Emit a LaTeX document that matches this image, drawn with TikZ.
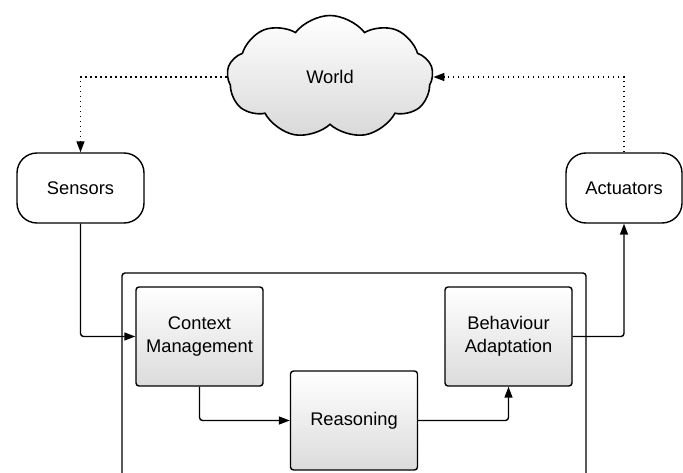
\documentclass[tikz,border=0pt]{standalone}
\usepackage{fontspec}
\setmainfont{Liberation Sans}
\usetikzlibrary{shapes.symbols}
\usetikzlibrary{arrows.meta}

\tikzset{
  part/.style={draw, line width=1.4pt, rounded corners=3pt,
    top color=white, bottom color=black!14,
    minimum width=127pt, minimum height=99pt, align=center, inner sep=2pt},
  device/.style={draw, line width=1.4pt, rounded corners=20pt, fill=white,
    minimum width=127pt, minimum height=70pt},
  flow/.style={line width=1.4pt, rounded corners=3pt,
    -{Triangle[length=11pt,width=8pt]}},
  signal/.style={flow, rounded corners=0pt, dash pattern=on 1.5pt off 3.5pt},
}

\begin{document}
\begin{tikzpicture}[x=1pt,y=1pt,font=\fontsize{18.3}{23}\selectfont]
\useasboundingbox (0,0) rectangle (683,472);

%---------------------------------------
% Environment
%---------------------------------------
\node[cloud, cloud puffs=9, cloud puff arc=105, aspect=1.6, draw, line width=1.6pt,
      top color=white, bottom color=black!15,
      minimum width=206pt, minimum height=123pt] (world) at (330,395) {World};

%---------------------------------------
% Sensors and actuators
%---------------------------------------
\node[device] (sensors) at (80.5,284) {Sensors};
\node[device, minimum width=116pt] (actuators) at (624,284) {Actuators};

%---------------------------------------
% System: frame and its parts
%---------------------------------------
\draw[line width=1.4pt, rounded corners=3pt] (122,-20) rectangle (586,199);

\node[part] (context) at (199.5,135.5) {Context\\Management};
\node[part] (reasoning) at (354,51.5) {Reasoning};
\node[part] (behaviour) at (508.5,135.5) {Behaviour\\Adaptation};

%---------------------------------------
% Connectors
%---------------------------------------
\draw[flow] (sensors.south) |- (context.west);
\draw[flow] (context.south) |- (reasoning.west);
\draw[flow] (reasoning.east) -| (behaviour.south);
\draw[flow] (behaviour.east) -| (actuators.south);

% sensing and acting on the world
\draw[signal] (world.west) -| (sensors.north);
\draw[signal] (actuators.north) |- (world.east);

\end{tikzpicture}
\end{document}
